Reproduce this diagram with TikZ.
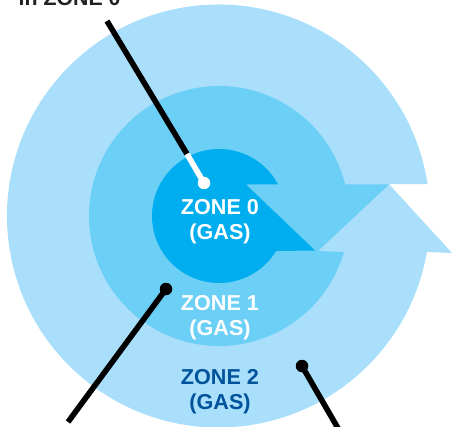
\documentclass[tikz,border=0pt]{standalone}
\usepackage{fontspec}
\setmainfont{Liberation Sans}
\definecolor{zonetwo}{HTML}{A9DFFB}
\definecolor{zoneone}{HTML}{6CCFF6}
\definecolor{zonezero}{HTML}{00AEEF}
\definecolor{zonetext}{HTML}{00529B}
\definecolor{leadtext}{HTML}{231F20}
\tikzset{
  zonelabel/.style={font=\fontsize{21.6}{25}\selectfont\bfseries, align=center, inner sep=0pt, text=white},
  leader/.style={line width=5.6pt, black},
  leaderwhite/.style={line width=5.6pt, white},
  dotblack/.style={circle, fill=black, minimum size=12.5pt, inner sep=0pt},
  dotwhite/.style={circle, fill=white, minimum size=12.5pt, inner sep=0pt}
}
\begin{document}
\begin{tikzpicture}[x=1pt,y=1pt]
\useasboundingbox (0,0) rectangle (452,426);
% outer zone
\fill[zonetwo] (218.5,210) ++(8.7:211.5) arc[start angle=8.7, end angle=350.2, radius=211.5]
  -- (452,173) -- (389,241.9) -- cycle;
% middle zone
\fill[zoneone] (219,210) ++(14.1:130) arc[start angle=14.1, end angle=343.9, radius=130]
  -- (318,175) -- (389,241.5) -- cycle;
% inner zone
\fill[zonezero] (219,210) ++(28.2:67) arc[start angle=28.2, end angle=328.5, radius=67]
  -- (315,175.5) -- (246,241.5) -- cycle;
% labels
\node[zonelabel] (z0) at (220,204.5) {ZONE 0\\(GAS)};
\node[zonelabel] (z1) at (220,108.5) {ZONE 1\\(GAS)};
\node[zonelabel, text=zonetext] (z2) at (220,34.5) {ZONE 2\\(GAS)};
\node[font=\fontsize{21.3}{25}\selectfont\bfseries, text=leadtext, anchor=base west, inner sep=0pt] (top) at (18.5,420) {in ZONE 0};
% leaders
\coordinate (a0) at (107,405);
\coordinate (a1) at (187,272);
\node[dotwhite] (d0) at (204,243) {};
\draw[leader] (a0) -- (a1);
\draw[leaderwhite] (a1) -- (d0.center);
\node[dotblack] (d1) at (166,137) {};
\coordinate (e1) at (68,4);
\draw[leader] (e1) -- (d1.center);
\node[dotblack] (d2) at (302,60) {};
\coordinate (e2) at (339,-4);
\draw[leader] (d2.center) -- (e2);
\end{tikzpicture}
\end{document}
